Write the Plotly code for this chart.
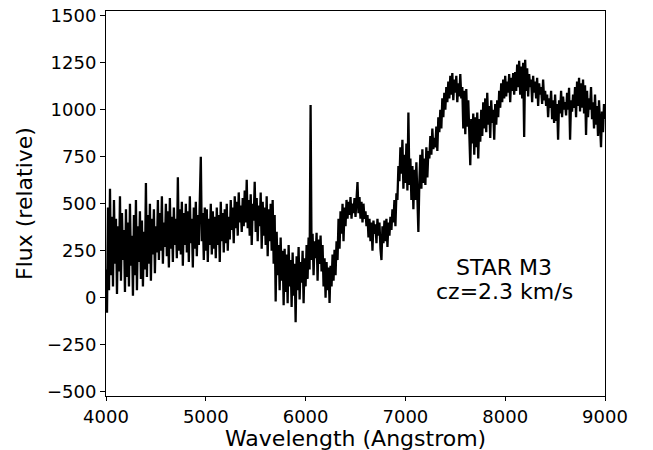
import plotly.graph_objects as go

start_wavelength = 4000
step_wavelength = 10
flux_4000_4490 = [
    150, -80, 480, 40, 580, 120, 430, 60, 520, 180,
    420, 20, 380, 140, 540, 90, 450, 200, 360, 30,
    470, 110, 400, 60, 500, 170, 330, 10, 440, 120,
    520, 40, 380, 190, 460, 100, 410, 60, 350, 150,
    610, 110, 440, 180, 500, 90, 420, 230, 470, 130,
]
flux_4500_4990 = [
    380, 240, 520, 200, 450, 250, 540, 180, 400, 270,
    500, 220, 460, 160, 530, 260, 430, 190, 480, 280,
    420, 210, 640, 250, 470, 230, 510, 170, 450, 280,
    500, 240, 460, 190, 540, 290, 420, 160, 480, 260,
    510, 220, 440, 280, 520, 750, 300, 450, 200, 480,
]
flux_5000_5490 = [
    250, 470, 190, 420, 280, 500, 230, 460, 260, 430,
    210, 480, 280, 440, 190, 510, 300, 450, 240, 470,
    290, 500, 250, 430, 310, 520, 360, 480, 290, 540,
    370, 510, 330, 560, 400, 490, 350, 530, 380, 570,
    400, 627, 370, 520, 330, 550, 280, 500, 410, 616,
]
flux_5500_5990 = [
    350, 530, 300, 490, 380, 560, 260, 510, 330, 480,
    280, 540, 220, 470, 300, 500, 250, 520, 180, 440,
    -20, 350, 120, 280, 40, 320, 90, 250, -40, 260,
    30, 230, -30, 280, 60, 200, -50, 240, 10, 180,
    -130, 220, 40, 270, -10, 190, 80, 250, -30, 210,
]
flux_6000_6490 = [
    60, 280, 100, 320, 150, 1025, 200, 340, 120, 300,
    210, 345, 90, 310, 180, 330, 140, 280, 60, 210,
    0, 190, 40, 160, -28, 170, 60, 230, 90, 255,
    120, 300, 200, 420, 260, 460, 340, 500, 300, 480,
    380, 520, 420, 510, 440, 535, 420, 500, 450, 530,
]
flux_6500_6990 = [
    430, 520, 615, 450, 535, 420, 510, 400, 500, 420,
    460, 380, 440, 320, 420, 300, 400, 250, 410, 340,
    390, 290, 420, 330, 400, 260, 200, 380, 290, 410,
    300, 420, 270, 400, 330, 430, 360, 470, 400, 520,
    380, 555, 520, 700, 620, 800, 660, 840, 580, 760,
]
flux_7000_7490 = [
    610, 820, 570, 985, 600, 740, 520, 700, 470, 680,
    520, 720, 560, 350, 620, 760, 580, 790, 610, 740,
    600, 800, 640, 780, 740, 860, 760, 900, 790, 850,
    800, 910, 780, 960, 880, 1000, 900, 1060, 960, 1090,
    1000, 1120, 1040, 1150, 1060, 1180, 1080, 1195, 1050, 1160,
]
flux_7500_7990 = [
    1090, 1180, 1040, 1140, 1070, 1190, 1060, 1120, 900, 1100,
    870, 1110, 910, 1050, 880, 705, 950, 820, 980, 760,
    960, 800, 985, 740, 950, 830, 1000, 860, 1040, 900,
    1060, 880, 1090, 920, 1020, 850, 1050, 930, 1000, 840,
    1030, 920, 1050, 960, 1100, 1010, 1140, 1040, 1160, 1060,
]
flux_8000_8490 = [
    1180, 1070, 1150, 1090, 1190, 1040, 1170, 1100, 1195, 1080,
    1200, 1100, 1240, 1120, 1260, 1080, 1230, 1060, 1250, 855,
    1265, 1100, 1220, 1070, 1190, 1120, 1160, 1040, 1180, 1090,
    1150, 1060, 1170, 1020, 1140, 1080, 1120, 1030, 1160, 1050,
    1100, 1020, 1080, 960, 1060, 1010, 1100, 950, 1050, 930,
]
flux_8500_9000 = [
    1080, 940, 1030, 840, 1050, 980, 1100, 960, 1070, 1000,
    1040, 970, 1090, 1000, 1117, 840, 1050, 990, 1080, 1010,
    1120, 960, 1150, 1020, 1170, 990, 1140, 1010, 1160, 980,
    1130, 865, 1100, 960, 1060, 1000, 1120, 950, 1040, 900,
    1080, 920, 1020, 860, 1050, 940, 800, 990, 880, 1030,
    950,
]

flux = (flux_4000_4490 + flux_4500_4990 + flux_5000_5490 + flux_5500_5990
        + flux_6000_6490 + flux_6500_6990 + flux_7000_7490 + flux_7500_7990
        + flux_8000_8490 + flux_8500_9000)
wavelength = [start_wavelength + step_wavelength * i for i in range(len(flux))]

x_ticks = [4000, 5000, 6000, 7000, 8000, 9000]
y_ticks = [-500, -250, 0, 250, 500, 750, 1000, 1250, 1500]
label_lines = ["STAR M3", "cz=2.3 km/s"]
label_x = 7990
label_y = [160, 35]
x_title = "Wavelength (Angstrom)"
y_title = "Flux (relative)"

FONT = "DejaVu Sans"

fig = go.Figure()
fig.add_trace(go.Scatter(x=wavelength, y=flux, mode="lines",
                         line=dict(color="black", width=2.3), showlegend=False))

for txt, yy in zip(label_lines, label_y):
    fig.add_annotation(x=label_x, y=yy, text=txt, showarrow=False,
                       xanchor="center", yanchor="middle",
                       font=dict(family=FONT, size=22, color="black"))

# x-axis title placed as paper annotation for exact positioning
fig.add_annotation(x=0.5, y=-0.111, xref="paper", yref="paper", text=x_title,
                   showarrow=False, xanchor="center", yanchor="middle",
                   borderpad=0,
                   font=dict(family=FONT, size=22, color="black"))

axis_common = dict(showline=True, mirror=True, linecolor="black", linewidth=1,
                   ticks="outside", tickwidth=1, tickcolor="black",
                   showgrid=False, zeroline=False,
                   tickfont=dict(family=FONT, size=18, color="black"))

fig.update_xaxes(range=[4000, 9000], tickvals=x_ticks, ticklen=4, **axis_common)
fig.update_yaxes(range=[-523, 1525], tickvals=y_ticks, ticklen=5,
                 title=dict(text=y_title, standoff=8,
                            font=dict(family=FONT, size=22, color="black")),
                 **axis_common)

fig.update_layout(width=653, height=450,
                  margin=dict(l=106, r=48, t=11, b=54, autoexpand=False),
                  paper_bgcolor="white", plot_bgcolor="white")

fig.write_html("out.html")
